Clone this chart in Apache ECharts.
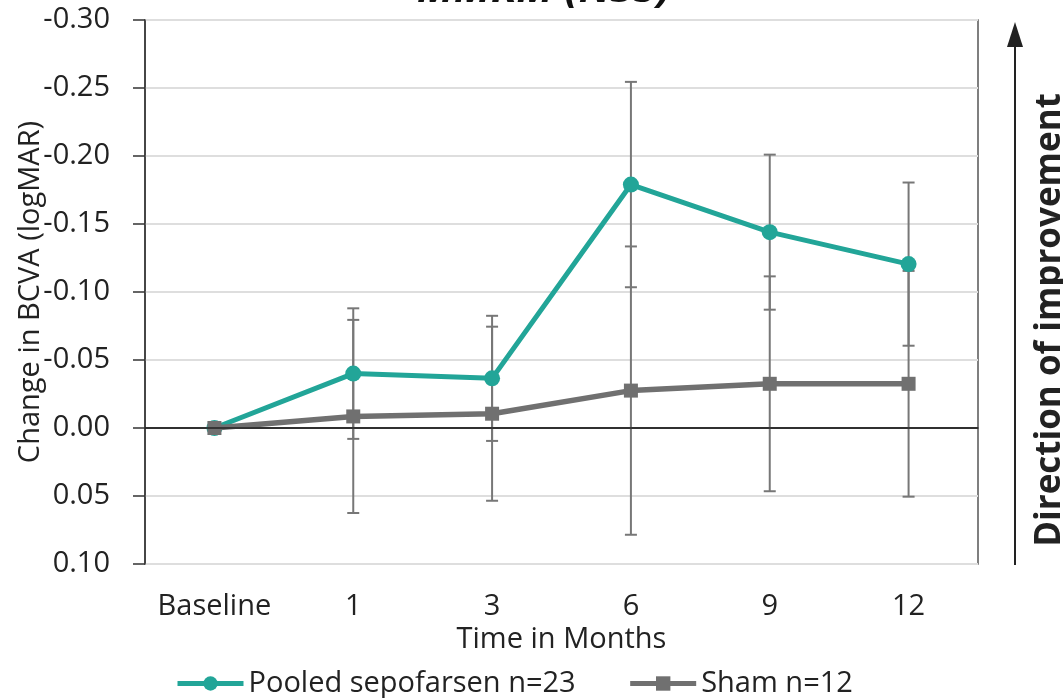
<!DOCTYPE html>
<html><head><meta charset="utf-8">
<script src="https://cdn.jsdelivr.net/npm/echarts@6/dist/echarts.min.js"></script>
<style>html,body{margin:0;padding:0;background:#fff}#c{width:1063px;height:698px}</style>
</head><body><div id="c"></div>
<script>
const categories = ['Baseline', '1', '3', '6', '9', '12'];
const sepoMean = [0, -0.040, -0.0365, -0.179, -0.144, -0.1205];
const sepoErr  = [0, 0.048, 0.046, 0.0755, 0.057, 0.060];
const shamMean = [0, -0.0085, -0.0105, -0.0275, -0.0325, -0.0325];
const shamErr  = [0, 0.071, 0.064, 0.106, 0.079, 0.083];
const yTicks = [-0.30, -0.25, -0.20, -0.15, -0.10, -0.05, 0.00, 0.05, 0.10];

const FONT = '"Open Sans", "Noto Sans", sans-serif';
const TEAL = '#22a598', GREY = '#707070';
const FS = 29;

function errSeries(mean, err) {
  return {
    type: 'custom', z: 1, silent: true,
    data: mean.map((m, i) => [i, m - err[i], m + err[i]]),
    renderItem: (params, api) => {
      if (api.value(1) === api.value(2)) return null;
      const top = api.coord([api.value(0), api.value(1)]);
      const bot = api.coord([api.value(0), api.value(2)]);
      const hw = 6;
      const st = { stroke: '#777', lineWidth: 2 };
      return { type: 'group', children: [
        { type: 'line', shape: { x1: top[0], y1: top[1], x2: bot[0], y2: bot[1] }, style: st },
        { type: 'line', shape: { x1: top[0]-hw, y1: top[1], x2: top[0]+hw, y2: top[1] }, style: st },
        { type: 'line', shape: { x1: bot[0]-hw, y1: bot[1], x2: bot[0]+hw, y2: bot[1] }, style: st }
      ]};
    }
  };
}

const chart = echarts.init(document.getElementById('c'), null, { renderer: 'canvas' });
chart.setOption({
  animation: false,
  textStyle: { fontFamily: FONT },
  grid: { left: 145, right: 85, top: 20, bottom: 134, show: true, borderColor: '#555', borderWidth: 1.5,
          containLabel: false, outerBoundsMode: 'none' },
  xAxis: {
    type: 'category', data: categories, boundaryGap: true,
    axisLine: { lineStyle: { color: '#333', width: 1.5 } },
    axisTick: { show: false },
    axisLabel: { fontSize: FS, color: '#222', margin: 28, fontFamily: FONT, interval: 0, hideOverlap: false },
    name: 'Time in Months', nameLocation: 'middle', nameGap: 61, nameMoveOverlap: false,
    nameTextStyle: { fontSize: FS, color: '#222', fontFamily: FONT }
  },
  yAxis: {
    type: 'value', inverse: true, min: yTicks[0], max: yTicks[yTicks.length-1], interval: 0.05,
    axisLine: { show: true, onZero: false, lineStyle: { color: '#333', width: 1.5 } },
    axisTick: { show: true, length: 12, lineStyle: { color: '#333', width: 1.5 } },
    axisLabel: { fontSize: FS, color: '#222', margin: 35, fontFamily: FONT,
      formatter: v => { const r = Math.round(v*100)/100; return (Math.abs(r) < 1e-9 ? 0 : r).toFixed(2); } },
    splitLine: { lineStyle: { color: '#dedede', width: 2 } },
    name: 'Change in BCVA (logMAR)', nameLocation: 'middle', nameGap: 100, nameRotate: 90, nameMoveOverlap: false,
    nameTextStyle: { fontSize: FS, color: '#222', fontFamily: FONT }
  },
  legend: {
    top: 664, left: 170, itemWidth: 66, itemHeight: 18, itemGap: 52,
    textStyle: { fontSize: FS, color: '#222', fontFamily: FONT },
    data: [
      { name: 'Pooled sepofarsen n=23', lineStyle: { width: 5, color: TEAL } },
      { name: 'Sham n=12', lineStyle: { width: 5, color: GREY } }
    ]
  },
  series: [
    errSeries(sepoMean, sepoErr),
    errSeries(shamMean, shamErr),
    {
      name: 'Pooled sepofarsen n=23', type: 'line', z: 3, data: sepoMean,
      symbol: 'circle', symbolSize: 16,
      lineStyle: { color: TEAL, width: 5 }, itemStyle: { color: TEAL },
      markLine: { silent: true, symbol: 'none', label: { show: false },
        lineStyle: { color: '#222', width: 1.5, type: 'solid' }, data: [{ yAxis: 0 }] }
    },
    {
      name: 'Sham n=12', type: 'line', z: 4, data: shamMean,
      symbol: 'rect', symbolSize: 14,
      lineStyle: { color: GREY, width: 5.5 }, itemStyle: { color: GREY }
    }
  ],
  graphic: [
    { type: 'text', style: { text: 'MMRM (N35)', x: 544, y: 11, align: 'center', verticalAlign: 'bottom',
      font: 'italic bold 42px ' + FONT, fill: '#111' } },
    { type: 'line', shape: { x1: 1015, y1: 565, x2: 1015, y2: 40 }, style: { stroke: '#222', lineWidth: 2 } },
    { type: 'polygon', shape: { points: [[1015, 22], [1007, 47], [1023, 47]] }, style: { fill: '#222' } },
    { type: 'text', x: 1050, y: 320, rotation: Math.PI/2,
      style: { text: 'Direction of improvement', align: 'center', verticalAlign: 'middle',
        font: 'bold 35px ' + FONT, fill: '#222' } }
  ]
});
</script></body></html>
